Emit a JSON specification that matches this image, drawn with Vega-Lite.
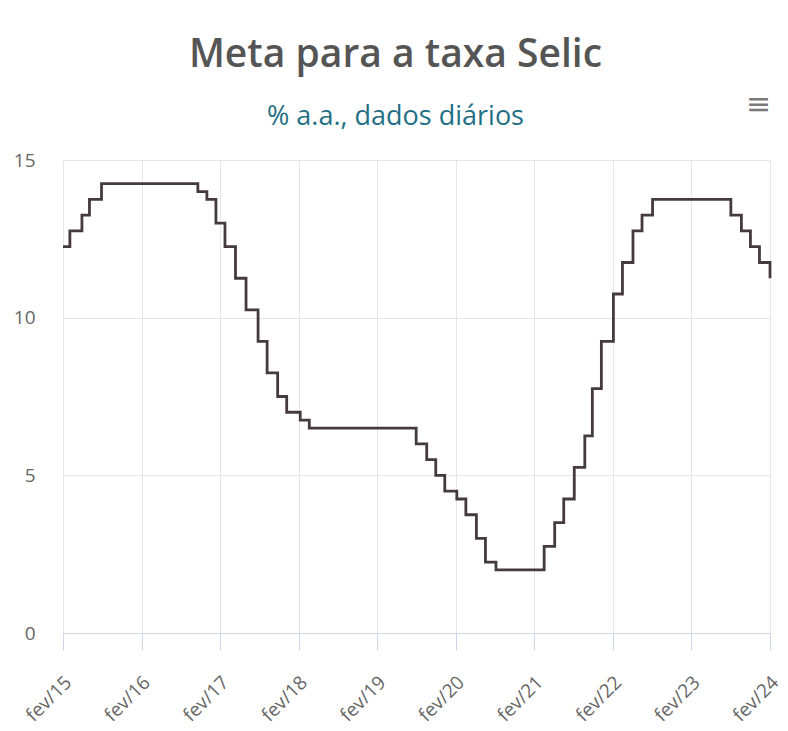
{
  "$schema": "https://vega.github.io/schema/vega-lite/v6.json",
  "width": 707,
  "height": 473,
  "autosize": {"type": "none"},
  "padding": {"left": 63, "top": 160, "right": 18, "bottom": 98},
  "background": "white",
  "title": {
    "text": "Meta para a taxa Selic",
    "subtitle": "% a.a., dados diários",
    "anchor": "middle",
    "frame": "group",
    "dx": -21,
    "offset": -40,
    "font": "Open Sans",
    "fontSize": 39,
    "fontWeight": 600,
    "color": "#555555",
    "subtitleFont": "Open Sans",
    "subtitleFontSize": 27,
    "subtitleColor": "#1f6f85",
    "subtitlePadding": 29
  },
  "config": {
    "view": {"stroke": null},
    "font": "Open Sans"
  },
  "layer": [
    {
      "data": {
        "values": [
          {"date": "2015-02-01", "selic": 12.25},
          {"date": "2015-03-05", "selic": 12.75},
          {"date": "2015-04-30", "selic": 13.25},
          {"date": "2015-06-04", "selic": 13.75},
          {"date": "2015-07-30", "selic": 14.25},
          {"date": "2016-10-20", "selic": 14.0},
          {"date": "2016-12-01", "selic": 13.75},
          {"date": "2017-01-12", "selic": 13.0},
          {"date": "2017-02-23", "selic": 12.25},
          {"date": "2017-04-13", "selic": 11.25},
          {"date": "2017-06-01", "selic": 10.25},
          {"date": "2017-07-27", "selic": 9.25},
          {"date": "2017-09-07", "selic": 8.25},
          {"date": "2017-10-26", "selic": 7.5},
          {"date": "2017-12-07", "selic": 7.0},
          {"date": "2018-02-08", "selic": 6.75},
          {"date": "2018-03-22", "selic": 6.5},
          {"date": "2019-08-01", "selic": 6.0},
          {"date": "2019-09-19", "selic": 5.5},
          {"date": "2019-10-31", "selic": 5.0},
          {"date": "2019-12-12", "selic": 4.5},
          {"date": "2020-02-06", "selic": 4.25},
          {"date": "2020-03-19", "selic": 3.75},
          {"date": "2020-05-07", "selic": 3.0},
          {"date": "2020-06-18", "selic": 2.25},
          {"date": "2020-08-06", "selic": 2.0},
          {"date": "2021-03-18", "selic": 2.75},
          {"date": "2021-05-06", "selic": 3.5},
          {"date": "2021-06-17", "selic": 4.25},
          {"date": "2021-08-05", "selic": 5.25},
          {"date": "2021-09-23", "selic": 6.25},
          {"date": "2021-10-28", "selic": 7.75},
          {"date": "2021-12-09", "selic": 9.25},
          {"date": "2022-02-03", "selic": 10.75},
          {"date": "2022-03-17", "selic": 11.75},
          {"date": "2022-05-05", "selic": 12.75},
          {"date": "2022-06-16", "selic": 13.25},
          {"date": "2022-08-04", "selic": 13.75},
          {"date": "2023-08-03", "selic": 13.25},
          {"date": "2023-09-21", "selic": 12.75},
          {"date": "2023-11-02", "selic": 12.25},
          {"date": "2023-12-14", "selic": 11.75},
          {"date": "2024-02-01", "selic": 11.25}
        ]
      },
      "mark": {"type": "line", "interpolate": "step-after", "color": "#453a40", "strokeWidth": 2.8},
      "encoding": {
        "x": {
          "field": "date",
          "type": "temporal",
          "scale": {"type": "utc", "domain": [{"year": 2015, "month": 2, "date": 1, "utc": true}, {"year": 2024, "month": 2, "date": 1, "utc": true}]},
          "axis": {
            "title": null,
            "values": [
              {"year": 2015, "month": 2, "date": 1, "utc": true},
              {"year": 2016, "month": 2, "date": 1, "utc": true},
              {"year": 2017, "month": 2, "date": 1, "utc": true},
              {"year": 2018, "month": 2, "date": 1, "utc": true},
              {"year": 2019, "month": 2, "date": 1, "utc": true},
              {"year": 2020, "month": 2, "date": 1, "utc": true},
              {"year": 2021, "month": 2, "date": 1, "utc": true},
              {"year": 2022, "month": 2, "date": 1, "utc": true},
              {"year": 2023, "month": 2, "date": 1, "utc": true},
              {"year": 2024, "month": 2, "date": 1, "utc": true}
            ],
            "labelExpr": "'fev/' + utcFormat(datum.value, '%y')",
            "grid": true,
            "gridColor": "#e6e6e6",
            "gridWidth": 1,
            "domainColor": "#ccd6eb",
            "tickColor": "#ccd6eb",
            "tickSize": 17,
            "labelAngle": -45,
            "labelAlign": "right",
            "labelBaseline": "middle",
            "labelPadding": 29,
            "labelOffset": 5,
            "labelFontSize": 19,
            "labelColor": "#666666",
            "labelFont": "Open Sans",
            "labelFlush": false,
            "labelOverlap": false
          }
        },
        "y": {
          "field": "selic",
          "type": "quantitative",
          "scale": {"domain": [0, 15], "nice": false},
          "axis": {
            "title": null,
            "values": [0, 5, 10, 15],
            "grid": true,
            "gridColor": "#e6e6e6",
            "domain": false,
            "ticks": false,
            "labelPadding": 28,
            "labelFontSize": 19,
            "labelColor": "#666666",
            "labelFont": "Open Sans"
          }
        }
      }
    },
    {
      "data": {"values": [{"icon": "≡"}]},
      "mark": {"type": "text", "font": "DejaVu Sans", "fontSize": 30, "color": "#7a7a7a", "align": "center", "baseline": "middle"},
      "encoding": {
        "x": {"datum": {"year": 2023, "month": 12, "date": 10, "utc": true}, "type": "temporal"},
        "y": {"datum": 16.75, "type": "quantitative"},
        "text": {"field": "icon"}
      }
    }
  ]
}
